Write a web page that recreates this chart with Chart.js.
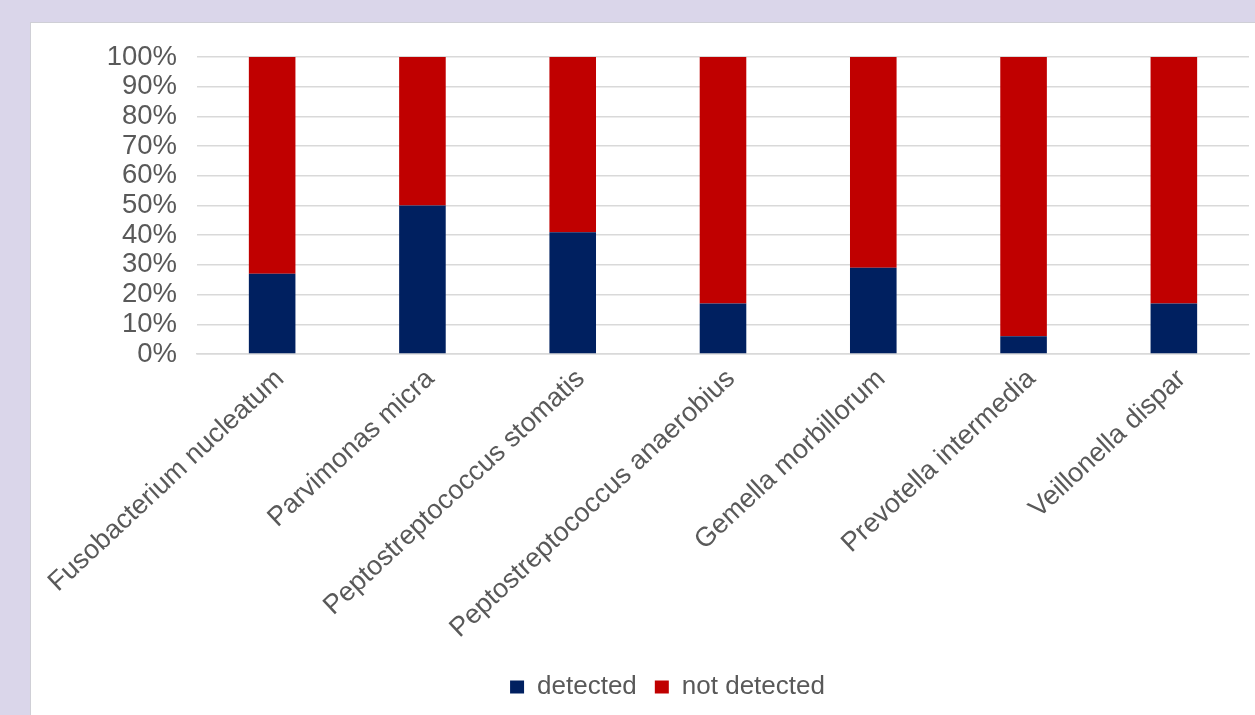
<!DOCTYPE html>
<html>
<head>
<meta charset="utf-8">
<script src="https://cdn.jsdelivr.net/npm/chart.js@4"></script>
<style>
  html, body { margin: 0; padding: 0; }
  body { width: 1255px; height: 715px; background: #dad6ea; position: relative; overflow: hidden; }
  #panel { position: absolute; left: 30px; top: 22px; width: 1240px; height: 710px; background: #ffffff; border: 1px solid #cfcfd6; }
  #chart_holder { position: absolute; left: 0; top: 0; width: 1255px; height: 715px; }
</style>
</head>
<body>
<div id="panel"></div>
<div id="chart_holder"><canvas id="bar-chart" width="1255" height="715"></canvas></div>
<script>
  // species on the x axis
  var species_list = ["Fusobacterium nucleatum", "Parvimonas micra", "Peptostreptococcus stomatis",
    "Peptostreptococcus anaerobius", "Gemella morbillorum", "Prevotella intermedia", "Veillonella dispar"];

  // percent of samples
  var detected_values = [27, 50, 41, 17, 29, 6, 17];
  var not_detected_values = [73, 50, 59, 83, 71, 94, 83];

  var y_tick_values = [0, 10, 20, 30, 40, 50, 60, 70, 80, 90, 100];

  var label_font = { family: "'Liberation Sans', Arial, sans-serif", size: 26 };
  var y_label_font = { family: "'Liberation Sans', Arial, sans-serif", size: 27.5 };
  var x_label_font = { family: "'Liberation Sans', Arial, sans-serif", size: 27 };
  var label_color = "#595959";

  Chart.defaults.font = label_font;
  Chart.defaults.color = label_color;

  new Chart(document.getElementById("bar-chart"), {
    type: 'bar',
    data: {
      labels: species_list,
      datasets: [
        {
          label: "detected",
          backgroundColor: "#002060",
          data: detected_values,
          barPercentage: 0.31,
          categoryPercentage: 1
        },
        {
          label: "not detected",
          backgroundColor: "#c00000",
          data: not_detected_values,
          barPercentage: 0.31,
          categoryPercentage: 1
        }
      ]
    },
    options: {
      responsive: false,
      animation: false,
      layout: { padding: { top: 57, right: 6, left: 86, bottom: 5 } },
      plugins: {
        legend: {
          position: 'bottom',
          labels: { boxWidth: 14, boxHeight: 13, padding: 18, font: label_font, color: label_color }
        },
        tooltip: { enabled: false }
      },
      scales: {
        x: {
          stacked: true,
          grid: { display: false },
          border: { display: true, color: "#d9d9d9", width: 1.5 },
          ticks: {
            minRotation: 43,
            maxRotation: 43,
            autoSkip: false,
            padding: 1,
            labelOffset: 8,
            font: x_label_font,
            color: label_color
          },
          afterFit: function(scale) { scale.height = 302; }
        },
        y: {
          stacked: true,
          min: 0,
          max: 100,
          border: { display: false },
          grid: { color: "#d9d9d9", lineWidth: 1.5, drawTicks: false },
          afterBuildTicks: function(scale) {
            scale.ticks = y_tick_values.map(function(v) { return { value: v }; });
          },
          ticks: {
            stepSize: 10,
            autoSkip: false,
            padding: 20,
            font: y_label_font,
            color: label_color,
            callback: function(value) { return value + '%'; }
          },
          afterFit: function(scale) { scale.width = 111; }
        }
      }
    }
  });
</script>
</body>
</html>
